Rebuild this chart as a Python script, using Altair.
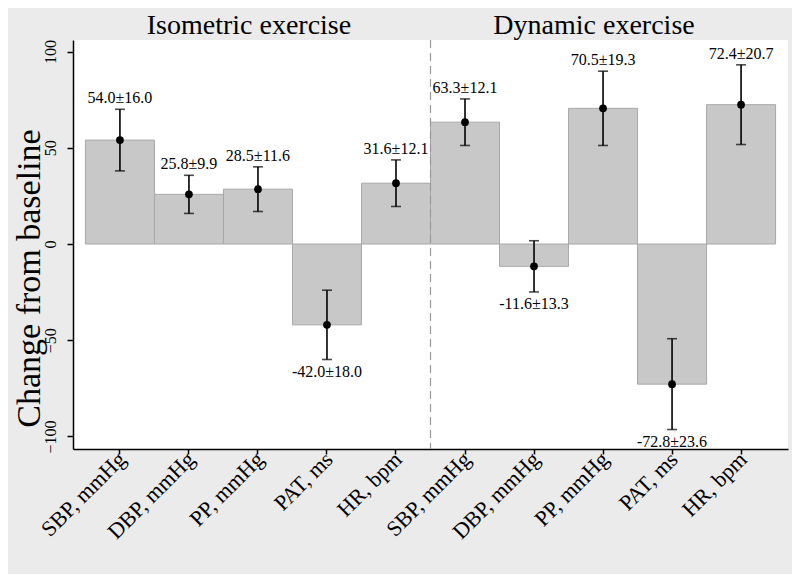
import json
import altair as alt
import pandas as pd

# ---- data ----
groups = ["Isometric exercise"] * 5 + ["Dynamic exercise"] * 5
measures = ["SBP, mmHg", "DBP, mmHg", "PP, mmHg", "PAT, ms", "HR, bpm",
            "SBP, mmHg", "DBP, mmHg", "PP, mmHg", "PAT, ms", "HR, bpm"]
means = [54.0, 25.8, 28.5, -42.0, 31.6, 63.3, -11.6, 70.5, -72.8, 72.4]
sds = [16.0, 9.9, 11.6, 18.0, 12.1, 12.1, 13.3, 19.3, 23.6, 20.7]
group_titles = ["Isometric exercise", "Dynamic exercise"]
group_centers = [2, 7]
y_ticks = [-100, -50, 0, 50, 100]

df = pd.DataFrame({
    "k": list(range(len(measures))),
    "group": groups,
    "measure": measures,
    "mean": means,
    "sd": sds,
})
df["lo"] = df["mean"] - df["sd"]
df["hi"] = df["mean"] + df["sd"]
df["label"] = [f"{m:.1f}±{s:.1f}" for m, s in zip(means, sds)]

titles_df = pd.DataFrame({"k": group_centers, "g": group_titles})
sep_df = pd.DataFrame({"k": [5]})

FONT = "Liberation Serif"
W, H = 715, 409

xscale = alt.Scale(paddingInner=0, paddingOuter=0.18)
yscale = alt.Scale(domain=[-106.5, 106], nice=False, zero=False)

x_axis = alt.Axis(
    title=None, labels=False,
    tickSize=5, tickColor="black", tickWidth=1.5,
    domainColor="black", domainWidth=1.5, grid=False,
)
y_axis = alt.Axis(
    values=y_ticks, title="Change from baseline",
    titleFont=FONT, titleFontSize=34, titleFontWeight="normal", titleColor="black",
    titleAngle=-90, titleX=-34, titleY=238, titleAlign="center", titleBaseline="alphabetic",
    labelAngle=-90, labelAlign="center", labelBaseline="alphabetic",
    labelFont=FONT, labelFontSize=16, labelColor="black", labelPadding=12,
    tickSize=6, tickColor="black", tickWidth=1.5,
    domainColor="black", domainWidth=1.5, grid=False,
)

X = alt.X("k:O", scale=xscale, axis=x_axis)


def Y(field):
    return alt.Y(field, scale=yscale, axis=y_axis)


base = alt.Chart(df)

bars = base.mark_bar(color="#c8c8c8", stroke="#a8a8a8", strokeWidth=1).encode(
    x=X, y=Y("mean:Q"), y2=alt.datum(0))
whisk = base.mark_rule(color="black", strokeWidth=1.6).encode(
    x=X, y=Y("lo:Q"), y2="hi:Q")
cap_hi = base.mark_tick(color="black", thickness=1.6, size=10, orient="horizontal").encode(
    x=X, y=Y("hi:Q"))
cap_lo = base.mark_tick(color="black", thickness=1.6, size=10, orient="horizontal").encode(
    x=X, y=Y("lo:Q"))
pts = base.mark_circle(color="black", size=60, opacity=1).encode(
    x=X, y=Y("mean:Q"))
lab_pos = base.transform_filter("datum.mean >= 0").mark_text(
    font=FONT, fontSize=16, baseline="alphabetic", dy=-6, color="black").encode(
    x=X, y=Y("hi:Q"), text="label:N")
lab_neg = base.transform_filter("datum.mean < 0").mark_text(
    font=FONT, fontSize=16, baseline="top", dy=4, color="black").encode(
    x=X, y=Y("lo:Q"), text="label:N")

# category labels, rotated 45 degrees
xlabels = base.mark_text(
    font=FONT, fontSize=22, angle=315, align="right", baseline="middle",
    color="black", dx=3).encode(
    x=X, y=alt.value(H + 9), text="measure:N")

sep = alt.Chart(sep_df).mark_rule(color="#999999", strokeWidth=1.2, strokeDash=[8, 5]).encode(
    x=alt.X("k:O", scale=xscale, axis=x_axis, bandPosition=0),
    y=alt.value(0), y2=alt.value(H))

gtitles = alt.Chart(titles_df).mark_text(
    font=FONT, fontSize=28, baseline="alphabetic", dx=-9, dy=2, color="black").encode(
    x=X, y=alt.value(-8), text="g:N")

chart = alt.layer(bars, sep, whisk, cap_hi, cap_lo, pts, lab_pos, lab_neg,
                  xlabels, gtitles).properties(
    width=W, height=H,
    background="#ebebeb",
    padding={"left": 65, "top": 32, "right": 4, "bottom": 125},
    autosize=alt.AutoSizeParams(type="none"),
).configure_view(stroke=None, fill="white")

chart.save("out.html", embed_options={"renderer": "svg", "actions": False})
